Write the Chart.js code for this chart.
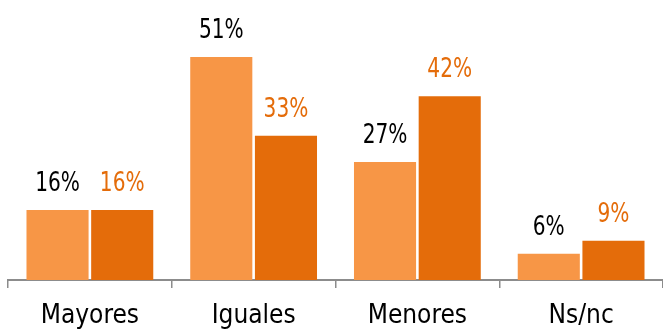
<!DOCTYPE html>
<html>
<head>
<meta charset="utf-8">
<script src="https://cdn.jsdelivr.net/npm/chart.js@4"></script>
<style>
  html, body { margin: 0; padding: 0; background: #fff; }
  #wrap { width: 663px; height: 329px; }
</style>
</head>
<body>
<div id="wrap"><canvas id="grafico" width="663" height="329"></canvas></div>
<script>
const categorias = ['Mayores', 'Iguales', 'Menores', 'Ns/nc']
const serieA = [16, 51, 27, 6]
const serieB = [16, 33, 42, 9]
const fuente = '"DejaVu Sans Condensed", "DejaVu Sans", sans-serif'

// etiquetas de valor encima de cada barra
const etiquetas = {
    id: 'etiquetas',
    afterDatasetsDraw(chart) {
        const ctx = chart.ctx
        chart.data.datasets.forEach((ds, i) => {
            const meta = chart.getDatasetMeta(i)
            meta.data.forEach((bar, j) => {
                ctx.save()
                ctx.translate(bar.x, bar.y - 19)
                ctx.scale(0.86, 1)
                ctx.font = '26px ' + fuente
                ctx.textAlign = 'center'
                ctx.textBaseline = 'alphabetic'
                ctx.fillStyle = ds.labelColor
                ctx.fillText(ds.data[j] + '%', 0, 0)
                ctx.restore()
            })
        })
    }
}

new Chart(document.getElementById('grafico'), {
    type: 'bar',
    data: {
        labels: categorias,
        datasets: [
            { data: serieA, backgroundColor: '#F79646', labelColor: '#000000',
              barPercentage: 0.96, categoryPercentage: 0.79 },
            { data: serieB, backgroundColor: '#E46C0A', labelColor: '#E46C0A',
              barPercentage: 0.96, categoryPercentage: 0.79 }
        ]
    },
    options: {
        responsive: false,
        animation: false,
        layout: { padding: { left: 8, right: 0, top: 0, bottom: -15 } },
        plugins: { legend: { display: false }, tooltip: { enabled: false } },
        scales: {
            y: { display: false, min: 0, max: 64 },
            x: {
                grid: { display: true, drawOnChartArea: false, drawTicks: true, tickLength: 8,
                        color: '#8c8c8c', lineWidth: 1.5, offset: true },
                border: { display: true, color: '#8c8c8c', width: 2 },
                ticks: { color: '#000', font: { size: 26, family: fuente, lineHeight: 1 }, padding: 15 }
            }
        }
    },
    plugins: [etiquetas]
})
</script>
</body>
</html>
